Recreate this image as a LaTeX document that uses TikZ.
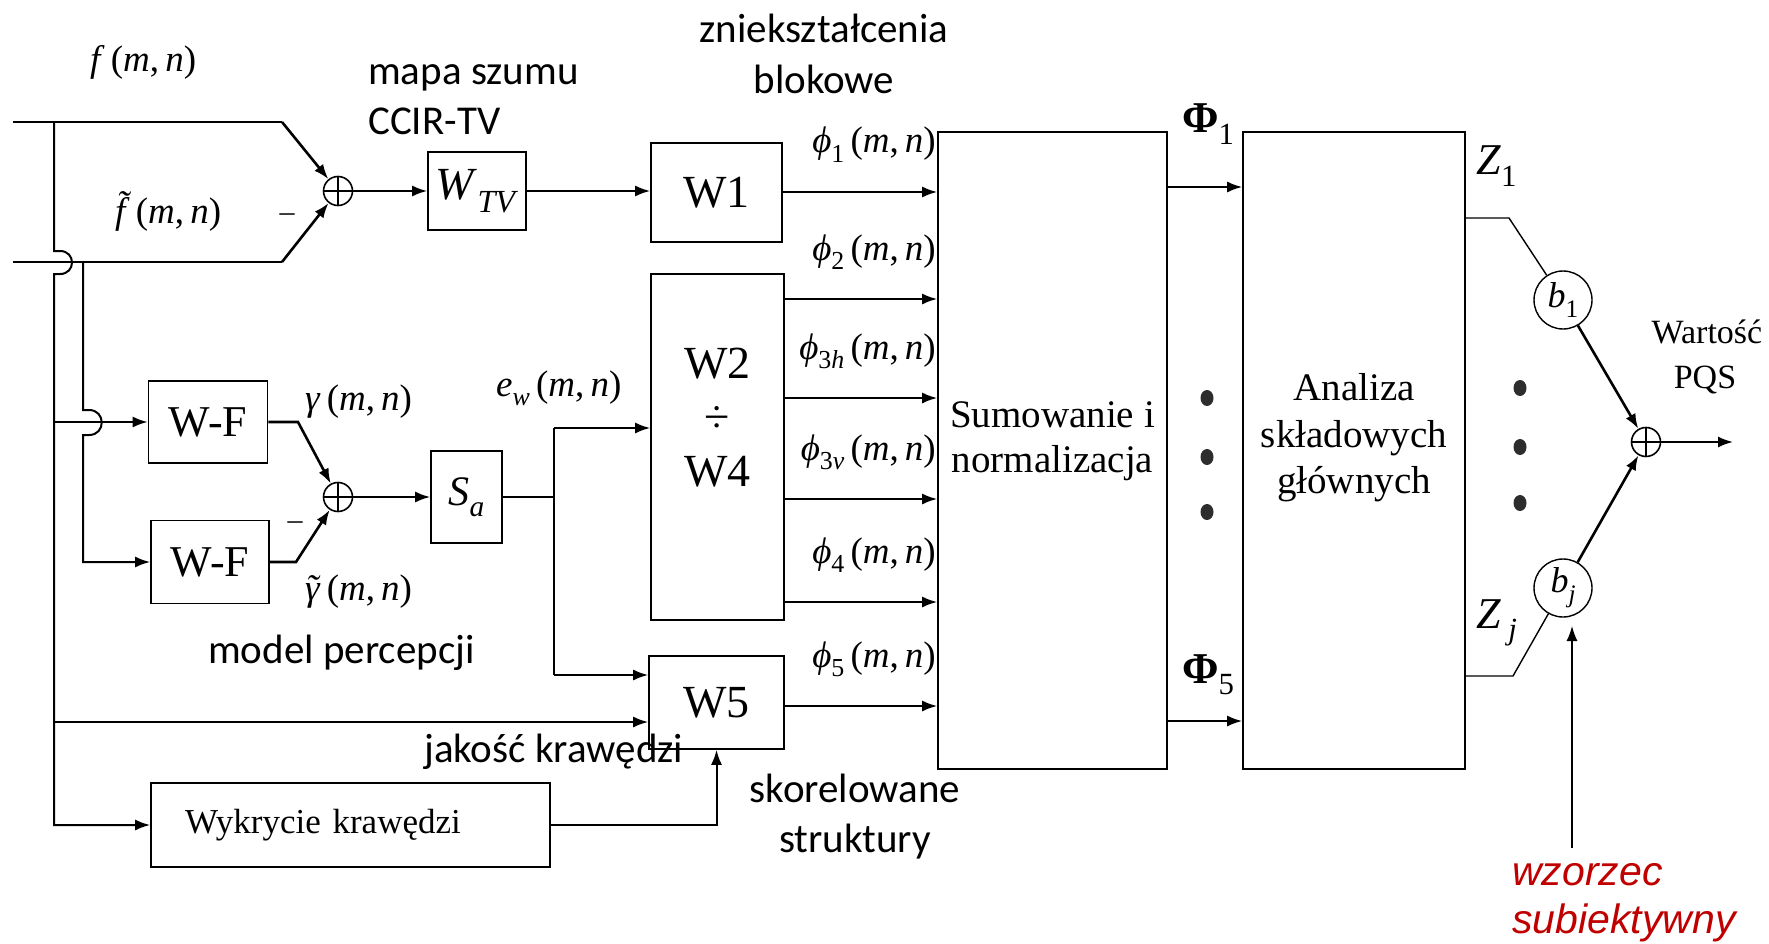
\documentclass[tikz,border=0pt]{standalone}
\usepackage[no-math]{fontspec}
\setmainfont{Liberation Serif}
\newfontfamily\calibrifont{Carlito}
\newfontfamily\arialfont{Liberation Sans}
\usetikzlibrary{arrows.meta,calc}
\definecolor{notered}{RGB}{192,0,0}
\definecolor{dotgray}{RGB}{45,45,45}

% italic variable, lowered subscript, argument list and tilde-accented variable
\makeatletter
\newcommand\iv[1]{\textit{#1}}
\newcommand\sub[1]{\raisebox{-0.27em}{\fontsize{\strip@pt\dimexpr0.7\dimexpr\f@size pt\relax\relax}{0}\selectfont #1}}
\makeatother
\newcommand\mn{\,(\iv{m},\,\iv{n})}
\newcommand\tl[3]{\ooalign{\iv{#3}\cr\hidewidth\kern#2\raisebox{#1}{\iv{\char"02DC}}\hidewidth\cr}}

\tikzset{
  blk/.style={draw, line width=1.6pt, inner sep=0pt, font=\fontsize{46}{52}\selectfont},
  conn/.style={line width=2pt},
  arr/.style={conn, -{Latex[length=15pt,width=11pt]}},
  darr/.style={line width=2.6pt, -{Latex[length=15pt,width=11pt]}},
  thinl/.style={line width=1.4pt},
  mlab/.style={inner sep=0pt, font=\fontsize{37}{40}\selectfont},
  note/.style={inner sep=0pt, font=\calibrifont\fontsize{41}{46}\selectfont},
  rednote/.style={inner sep=0pt, text=notered, font=\arialfont\itshape\fontsize{41}{46}\selectfont},
  sumnode/.style={circle, draw, line width=1.6pt, minimum size=29pt, inner sep=0pt,
    path picture={\draw[line width=1.4pt]
      (path picture bounding box.north) -- (path picture bounding box.south)
      (path picture bounding box.west) -- (path picture bounding box.east);}},
  wcirc/.style={circle, draw, line width=1.4pt, minimum size=58pt, inner sep=0pt,
    font=\fontsize{36}{38}\selectfont},
}

\begin{document}
\begin{tikzpicture}[x=1pt, y=-1pt]
\useasboundingbox (0,0) rectangle (1769,944);
\fill[white] (0,0) rectangle (1769,944);

% ---------- blocks ----------
\node[sumnode] (sA) at (338,191) {};
\node[sumnode] (sB) at (338,497) {};
\node[sumnode] (sC) at (1646,442) {};

\node[blk, minimum width=98pt, minimum height=78pt, font=\fontsize{46}{48}\selectfont] (wtv) at (477,191) {\iv{W}\sub{\iv{TV}}};
\node[blk, minimum width=131pt, minimum height=99pt] (w1) at (716.5,192.5) {W1};
\node[blk, minimum width=133pt, minimum height=346pt] (w24) at (717.5,447) {};
\node[inner sep=0pt, align=center, font=\fontsize{46}{54}\selectfont] (w24t) at (717.5,418) {W2\\÷\\W4};
\node[blk, minimum width=135pt, minimum height=93pt] (w5) at (716.5,702.5) {W5};

\node[blk, minimum width=119pt, minimum height=82pt, font=\fontsize{44}{48}\selectfont] (wf1) at (208,422) {W-F};
\node[blk, minimum width=118pt, minimum height=83pt, font=\fontsize{44}{48}\selectfont] (wf2) at (210,562) {W-F};
\node[blk, minimum width=71pt, minimum height=92pt, font=\fontsize{42}{44}\selectfont] (sa) at (466.5,497) {\iv{S}\sub{\iv{a}}};

\node[blk, minimum height=84pt, text width=331pt, inner xsep=34pt, align=left,
      font=\fontsize{35}{40}\selectfont] (wyk) at (350.5,825) {Wykrycie krawędzi};

\node[blk, minimum width=229pt, minimum height=637pt] (sumn) at (1052.5,450.5) {};
\node[inner sep=0pt, align=center, font=\fontsize{39}{45}\selectfont] (sumt) at (1052.5,441) {Sumowanie i\\normalizacja};
\node[blk, minimum width=222pt, minimum height=637pt] (ana) at (1354,450.5) {};
\node[inner sep=0pt, align=center, font=\fontsize{39}{46.5}\selectfont] (anat) at (1354,438) {Analiza\\składowych\\głównych};

\node[wcirc] (b1) at (1563,300) {\iv{b}\sub{1}};
\node[wcirc] (bj) at (1563,588) {\iv{b}\sub{\iv{j}}};

% ---------- input branches ----------
\coordinate (inF) at (13,122);
\coordinate (inG) at (13,262);
\coordinate (kF) at (282,122);
\coordinate (kG) at (282,262);
\coordinate (vA) at (54,122);
\coordinate (vB) at (83,262);

\draw[conn] (inF) -- (kF);
\draw[darr] (kF) -- (sA);
\draw[conn] (inG) -- (kG);
\draw[darr] (kG) -- (sA);
\draw[arr] (sA) -- (wtv);
\draw[arr] (wtv) -- (w1.west |- sA);

% f(m,n) distribution line, hopping over the f~ line
\draw[arr] (vA) -- (54,251) -- (60,251) .. controls (76,251) and (76,274) .. (60,274)
  -- (54,274) |- (wyk.west);
\draw[arr] (54,422) -- (wf1.west);
\draw[arr] (54,722) -- (w5.west |- 0,722);

% f~(m,n) line, hopping over the W-F feed
\draw[arr] (vB) -- (83,410) -- (89,410) .. controls (106,410) and (106,435) .. (89,435)
  -- (83,435) |- (wf2.west);

% ---------- perception model ----------
\draw[darr] (wf1.east) -- (298,422) -- (sB);
\draw[darr] (wf2.east) -- (296,562) -- (sB);
\draw[arr] (sB) -- (sa);
\coordinate (ew) at (554,497);
\draw[conn] (sa.east) -- (ew);
\draw[conn] (554,428) -- (554,675);
\draw[arr] (554,428) -- (w24.west |- 0,428);
\draw[arr] (554,675) -- (w5.west |- 0,675);
\draw[arr] (wyk.east) -| (w5.south);

% ---------- distortion measures ----------
\draw[arr] (w1.east |- 0,192) -- (sumn.west |- 0,192);
\foreach \yy in {299,398,499,602}
  \draw[arr] (w24.east |- 0,\yy) -- (sumn.west |- 0,\yy);
\draw[arr] (w5.east |- 0,706) -- (sumn.west |- 0,706);

\draw[arr] (sumn.east |- 0,187) -- (ana.west |- 0,187);
\draw[arr] (sumn.east |- 0,721) -- (ana.west |- 0,721);

% ---------- weighting ----------
\draw[thinl] (ana.east |- 0,218) -- (1509,218) -- (b1);
\draw[thinl] (ana.east |- 0,676) -- (1513,676) -- (bj);
\draw[darr] (b1) -- (sC);
\draw[darr] (bj) -- (sC);
\coordinate (outp) at (1733,442);
\draw[arr] (sC) -- (outp);
\coordinate (wzb) at (1572,848);
\coordinate (wzt) at (1572,626);
\draw[thinl, -{Latex[length=15pt,width=11pt]}] (wzb) -- (wzt);

% continuation dots
\foreach \yy in {398,457,512}
  \fill[dotgray] (1207,\yy) ellipse [x radius=6.5pt, y radius=8pt];
\foreach \yy in {388,447,503}
  \fill[dotgray] (1520,\yy) ellipse [x radius=6.5pt, y radius=8pt];

% ---------- signal labels ----------
\node[mlab, anchor=base west] (lf) at (90,72) {\iv{f}\mn};
\node[mlab, anchor=base west] (lft) at (115,224) {\tl{0.2em}{0.08em}{f}\mn};
\node[inner sep=0pt, font=\fontsize{30}{32}\selectfont] (mi1) at (287,218) {–};
\node[inner sep=0pt, font=\fontsize{30}{32}\selectfont] (mi2) at (295,526) {–};
\node[mlab, anchor=base west] (lg) at (305,410) {\iv{γ}\mn};
\node[mlab, anchor=base west] (lgt) at (305,600) {\tl{-0.02em}{0.02em}{γ}\mn};
\node[mlab, anchor=base west] (lew) at (496,396) {\iv{e}\sub{\iv{w}}\mn};

\node[mlab, anchor=base east] (p1) at (936,153) {\iv{ϕ}\sub{1}\mn};
\node[mlab, anchor=base east] (p2) at (936,260) {\iv{ϕ}\sub{2}\mn};
\node[mlab, anchor=base east] (p3h) at (936,359) {\iv{ϕ}\sub{3\iv{h}}\mn};
\node[mlab, anchor=base east] (p3v) at (936,460) {\iv{ϕ}\sub{3\iv{v}}\mn};
\node[mlab, anchor=base east] (p4) at (936,563) {\iv{ϕ}\sub{4}\mn};
\node[mlab, anchor=base east] (p5) at (936,667) {\iv{ϕ}\sub{5}\mn};

\node[inner sep=0pt, anchor=base west, font=\fontsize{44}{46}\selectfont] (P1) at (1182,133) {\textbf{Φ}\sub{1}};
\node[inner sep=0pt, anchor=base west, font=\fontsize{44}{46}\selectfont] (P5) at (1182,683) {\textbf{Φ}\sub{5}};
\node[inner sep=0pt, anchor=base west, font=\fontsize{44}{46}\selectfont] (Z1) at (1476,175) {\iv{Z}\sub{1}};
\node[inner sep=0pt, anchor=base west, font=\fontsize{44}{46}\selectfont] (Zj) at (1476,628) {\iv{Z}\,\sub{\iv{j}}};

\node[inner sep=0pt, anchor=base, font=\fontsize{34}{38}\selectfont] (war) at (1707,343) {Wartość};
\node[inner sep=0pt, anchor=base, font=\fontsize{34}{38}\selectfont] (pqs) at (1705,388) {PQS};

% ---------- annotations ----------
\node[note, anchor=base west] (n1a) at (368,85) {mapa szumu};
\node[note, anchor=base west] (n1b) at (368,135) {CCIR-TV};
\node[note, anchor=base] (n2a) at (824,43) {zniekształcenia};
\node[note, anchor=base] (n2b) at (824,94) {blokowe};
\node[note, anchor=base west] (n3) at (208,663) {model percepcji};
\node[note, anchor=base west] (n4) at (424,762) {jakość krawędzi};
\node[note, anchor=base] (n5a) at (855,802) {skorelowane};
\node[note, anchor=base] (n5b) at (855,852) {struktury};
\node[rednote, anchor=base west] (n6a) at (1512,885) {wzorzec};
\node[rednote, anchor=base west] (n6b) at (1512,933) {subiektywny};
\end{tikzpicture}
\end{document}
